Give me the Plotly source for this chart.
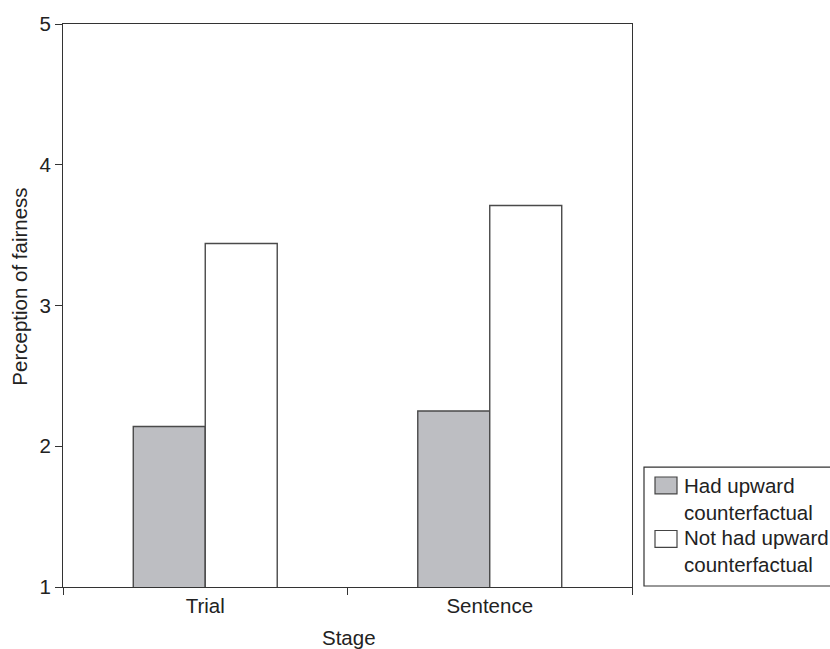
import plotly.graph_objects as go

stages = ["Trial", "Sentence"]
had_upward = [2.14, 2.25]
not_had_upward = [3.44, 3.71]
series_names = ["Had upward<br>counterfactual", "Not had upward<br>counterfactual"]
y_ticks = [1, 2, 3, 4, 5]

FONT = "Liberation Sans, Arial, sans-serif"
FS = 20.5
W, H = 830, 649
L, R, T, B = 63, 632, 19, 587

def px_x(p):
    return (p - L) / (R - L)

def px_y(p):
    return (B - p) / (B - T)

fig = go.Figure()
fig.add_trace(go.Bar(x=stages, y=had_upward, name=series_names[0],
                     marker=dict(color="#bdbec2", line=dict(color="#4a4a4a", width=1.4)),
                     showlegend=False))
fig.add_trace(go.Bar(x=stages, y=not_had_upward, name=series_names[1],
                     marker=dict(color="#ffffff", line=dict(color="#4a4a4a", width=1.4)),
                     showlegend=False))

fig.update_layout(
    width=W, height=H,
    margin=dict(l=L, r=W - R, t=T, b=H - B, pad=0),
    paper_bgcolor="white", plot_bgcolor="white",
    barmode="group", bargap=0.494, bargroupgap=0,
    font=dict(family=FONT, size=FS, color="#222222"),
)
fig.update_xaxes(showline=True, linecolor="#333333", linewidth=1.2, mirror=True,
                 ticks="outside", ticklen=7, tickcolor="#333333", tickson="boundaries",
                 showgrid=False, tickfont=dict(size=FS))
fig.update_yaxes(range=[1, 5], tickvals=y_ticks, showline=True, linecolor="#333333",
                 linewidth=1.2, mirror=True, ticks="outside", ticklen=7, tickcolor="#333333",
                 showgrid=False, zeroline=False, tickfont=dict(size=FS))

# axis titles
fig.add_annotation(text="Perception of fairness", xref="paper", yref="paper",
                   x=px_x(20), y=px_y(284), textangle=-90, showarrow=False,
                   xanchor="center", yanchor="middle", font=dict(size=FS))
fig.add_annotation(text="Stage", xref="paper", yref="paper",
                   x=px_x(349), y=px_y(638), showarrow=False,
                   xanchor="center", yanchor="middle", font=dict(size=FS))

# custom legend
fig.add_shape(type="rect", xref="paper", yref="paper",
              x0=px_x(644), x1=px_x(845), y0=px_y(586), y1=px_y(466),
              line=dict(color="#333333", width=1.2), fillcolor="white")
fig.add_shape(type="rect", xref="paper", yref="paper",
              x0=px_x(655), x1=px_x(677), y0=px_y(493), y1=px_y(476),
              line=dict(color="#444444", width=1.2), fillcolor="#bdbec2")
fig.add_shape(type="rect", xref="paper", yref="paper",
              x0=px_x(655), x1=px_x(677), y0=px_y(547), y1=px_y(530),
              line=dict(color="#444444", width=1.2), fillcolor="#ffffff")
fig.add_annotation(text=series_names[0], xref="paper", yref="paper",
                   x=px_x(682), y=px_y(498), showarrow=False, align="left",
                   xanchor="left", yanchor="middle", font=dict(size=FS))
fig.add_annotation(text=series_names[1], xref="paper", yref="paper",
                   x=px_x(682), y=px_y(551), showarrow=False, align="left",
                   xanchor="left", yanchor="middle", font=dict(size=FS))

fig.write_html("out.html", config={"displayModeBar": False},
               post_script="document.body.style.margin='0px';document.body.style.overflow='hidden';")
